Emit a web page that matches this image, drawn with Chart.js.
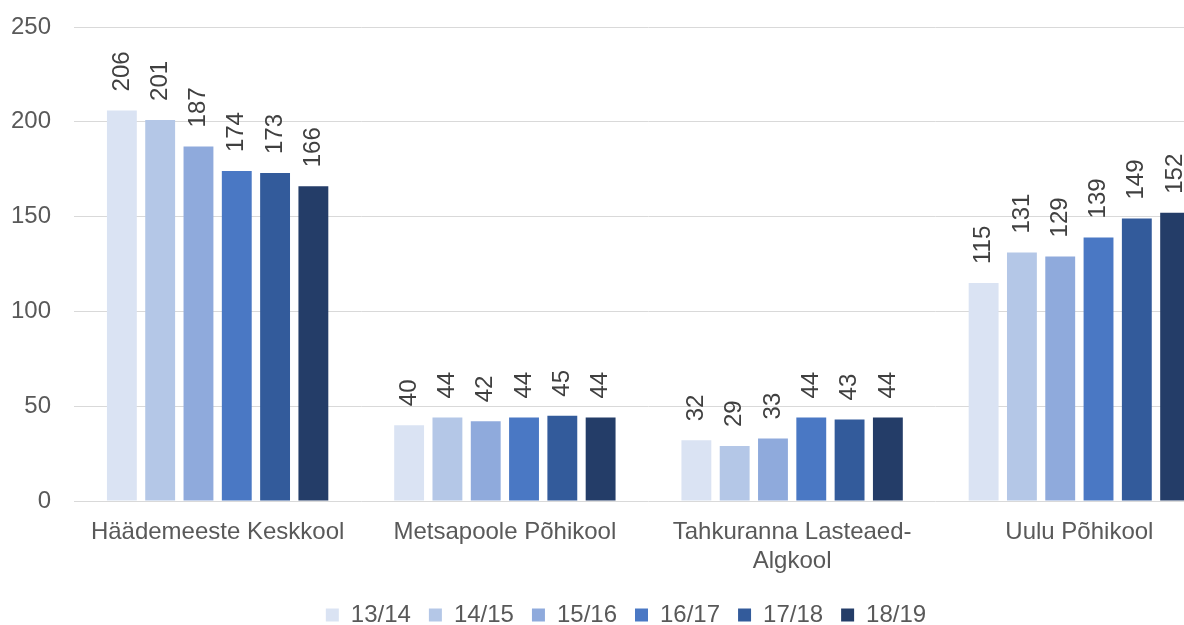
<!DOCTYPE html>
<html>
<head>
<meta charset="utf-8">
<script src="https://cdn.jsdelivr.net/npm/chart.js@4.4.1/dist/chart.umd.min.js"></script>
<style>
  html, body { margin: 0; padding: 0; background: #ffffff; overflow: hidden; }
  #wrap { width: 1184px; height: 625px; overflow: hidden; position: relative; }
  canvas { position: absolute; left: 0; top: 0; }
</style>
</head>
<body>
<div id="wrap"><canvas id="c" width="1252" height="637"></canvas></div>
<script>
const categories = ['Häädemeeste Keskkool', 'Metsapoole Põhikool', ['Tahkuranna Lasteaed-', 'Algkool'], 'Uulu Põhikool'];
const seriesNames = ['13/14', '14/15', '15/16', '16/17', '17/18', '18/19'];
const s1314 = [206, 40, 32, 115];
const s1415 = [201, 44, 29, 131];
const s1516 = [187, 42, 33, 129];
const s1617 = [174, 44, 44, 139];
const s1718 = [173, 45, 43, 149];
const s1819 = [166, 44, 44, 152];
const yTicks = [0, 50, 100, 150, 200, 250];
const seriesColors = ['#dae3f3', '#b4c7e7', '#8faadc', '#4a78c4', '#335b9b', '#243d68'];

const seriesValues = [s1314, s1415, s1516, s1617, s1718, s1819];
const FONT = '"Liberation Sans", Arial, sans-serif';

const barLabels = {
  id: 'barLabels',
  afterDatasetsDraw(chart) {
    const ctx = chart.ctx;
    ctx.save();
    ctx.font = '24px ' + FONT;
    ctx.fillStyle = '#404040';
    ctx.textAlign = 'left';
    ctx.textBaseline = 'middle';
    chart.data.datasets.forEach((ds, di) => {
      const meta = chart.getDatasetMeta(di);
      meta.data.forEach((bar, i) => {
        ctx.save();
        ctx.translate(bar.x, bar.y - 19);
        ctx.rotate(-Math.PI / 2);
        ctx.fillText(String(ds.data[i]), 0, 0);
        ctx.restore();
      });
    });
    ctx.restore();
  }
};

// centre the legend on the full canvas width (the plot keeps its right margin)
const legendCenter = {
  id: 'legendCenter',
  afterLayout(chart) {
    const lg = chart.legend;
    if (lg) {
      lg.left = 0;
      lg.right = chart.width;
      lg.width = chart.width;
    }
  }
};

new Chart(document.getElementById('c'), {
  type: 'bar',
  data: {
    labels: categories,
    datasets: seriesNames.map((n, i) => ({
      label: n,
      data: seriesValues[i],
      backgroundColor: seriesColors[i],
      borderWidth: 0,
      categoryPercentage: 0.8,
      barPercentage: 0.78
    }))
  },
  options: {
    responsive: false,
    animation: false,
    layout: { padding: { top: 27, right: 29, left: 0, bottom: 0 } },
    plugins: {
      tooltip: { enabled: false },
      legend: {
        position: 'bottom',
        labels: {
          boxWidth: 13,
          boxHeight: 13,
          padding: 18,
          color: '#595959',
          font: { family: FONT, size: 24 }
        }
      }
    },
    scales: {
      x: {
        grid: { display: false, drawTicks: false },
        border: { display: false },
        ticks: {
          color: '#595959',
          padding: 17,
          maxRotation: 0,
          autoSkip: false,
          font: { family: FONT, size: 24 }
        },
        afterFit(scale) { scale.height = 84; }
      },
      y: {
        min: 0,
        max: 250,
        afterBuildTicks(scale) { scale.ticks = yTicks.map(v => ({ value: v })); },
        grid: { color: '#d9d9d9', lineWidth: 1, drawTicks: false },
        border: { display: false },
        ticks: {
          color: '#595959',
          padding: 23,
          font: { family: FONT, size: 24, lineHeight: 0.1 }
        },
        afterFit(scale) { scale.width = 74; }
      }
    }
  },
  plugins: [barLabels, legendCenter]
});
</script>
</body>
</html>
